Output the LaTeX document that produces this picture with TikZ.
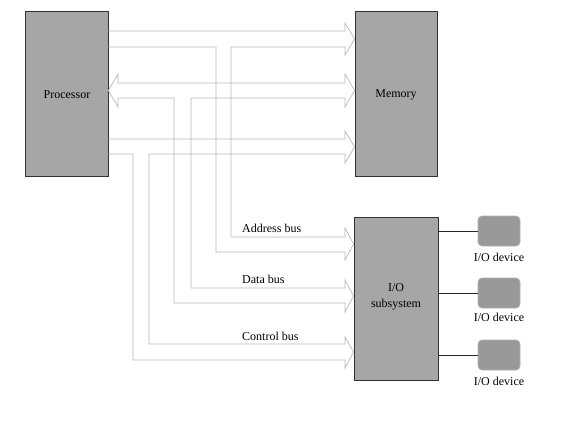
\documentclass[tikz,border=0pt]{standalone}
\usepackage{fontspec}
\setmainfont{Liberation Serif}
\begin{document}
\begin{tikzpicture}[x=1pt,y=-1pt,
  unitbox/.style={draw=black!80,fill=black!35,line width=0.8pt,inner sep=0pt,align=center,font=\fontsize{12}{15}\selectfont},
  devbox/.style={draw=black!30,fill=black!40,rounded corners=4pt,line width=0.6pt,minimum width=42pt,minimum height=30pt,inner sep=0pt},
  bus/.style={draw=black!27,line width=0.7pt,line join=miter},
  lbl/.style={font=\fontsize{12}{14}\selectfont,inner sep=0pt},
  link/.style={draw=black!85,line width=0.7pt}]
\useasboundingbox (0,0) rectangle (576,421);
\fill[white] (0,0) rectangle (576,421);
% units
\node[unitbox,minimum width=83pt,minimum height=165pt] (proc) at (66.5,93.5) {};
\node[unitbox,minimum width=82pt,minimum height=165pt] (mem) at (396,93.5) {};
\node[unitbox,minimum width=84pt,minimum height=163pt] (io) at (396,298.5) {};
\node[lbl] (proct) at (67,95) {Processor};
\node[lbl] (memt) at (396,95) {Memory};
\node[lbl,align=center,font=\fontsize{12}{16}\selectfont] (iot) at (396,297) {I/O\\subsystem};
% devices
\node[devbox] (d1) at (499,231) {};
\node[devbox] (d2) at (499,293) {};
\node[devbox] (d3) at (499,355) {};
\node[lbl,anchor=north] (l1) at ([yshift=-7pt]d1.south) {I/O device};
\node[lbl,anchor=north] (l2) at ([yshift=-5pt]d2.south) {I/O device};
\node[lbl,anchor=north] (l3) at ([yshift=-7pt]d3.south) {I/O device};
\draw[link] (io.east |- d1) -- (d1.west);
\draw[link] (io.east |- d2) -- (d2.west);
\draw[link] (io.east |- d3) -- (d3.west);
% address bus
\draw[bus] (proc.east |- 0,31) -- (345,31) -- (345,23) -- (mem.west |- 0,39) -- (345,55) -- (345,47)
  -- (231,47) -- (231,237) -- (345,237) -- (345,228) -- (io.west |- 0,244) -- (345,260) -- (345,252)
  -- (216,252) -- (216,47) -- (proc.east |- 0,47);
% data bus
\draw[bus] (118,83) -- (345,83) -- (345,74) -- (mem.west |- 0,90.5) -- (345,107) -- (345,98)
  -- (191,98) -- (191,288) -- (345,288) -- (345,280) -- (io.west |- 0,296) -- (345,312) -- (345,303)
  -- (174,303) -- (174,98) -- (118,98) -- (118,107) -- (proc.east |- 0,90.5) -- (118,74) -- cycle;
% control bus
\draw[bus] (proc.east |- 0,139) -- (345,139) -- (345,131) -- (mem.west |- 0,147) -- (345,163) -- (345,154)
  -- (149,154) -- (149,344) -- (345,344) -- (345,337) -- (io.west |- 0,352) -- (345,368) -- (345,360)
  -- (133,360) -- (133,154) -- (proc.east |- 0,154);
% labels
\node[lbl,anchor=west] (ab) at (242,228) {Address bus};
\node[lbl,anchor=west] (db) at (242,279) {Data bus};
\node[lbl,anchor=west] (cb) at (242,336) {Control bus};
\end{tikzpicture}
\end{document}
